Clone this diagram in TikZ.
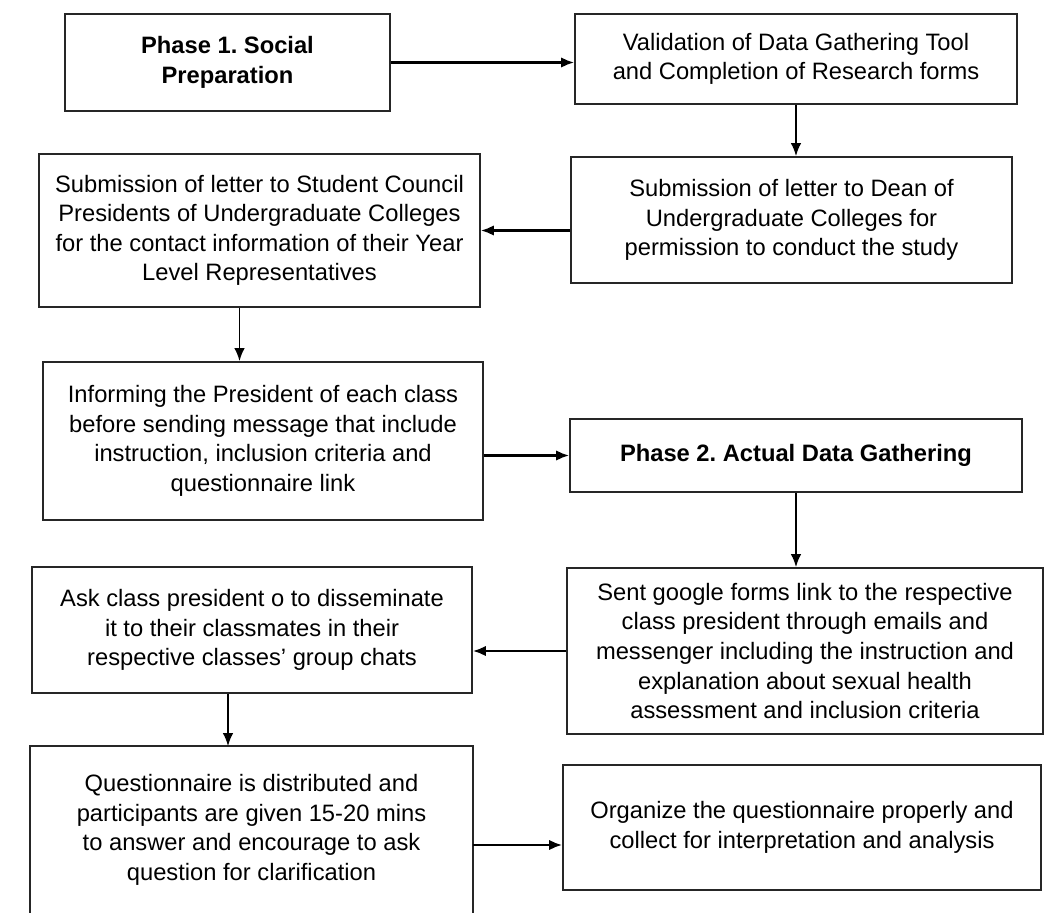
\documentclass[tikz,border=0pt]{standalone}
\usepackage{xcolor}
\usepackage{fontspec}
\setmainfont{Liberation Sans}
\usepackage{tikz}
\usetikzlibrary{arrows.meta, positioning, calc}
\frenchspacing

\tikzset{
    box/.style={draw=black!85, line width=1pt, rectangle, align=center, inner sep=2pt},
    arr/.style={->, line width=1.4pt},
    varr/.style={->, line width=1pt},
}

\begin{document}
\begin{tikzpicture}[x=0.02cm, y=-0.02cm, font=\fontsize{13.5}{16.8}\selectfont, >={Latex[length=2.6mm, width=2.1mm]}]
    \useasboundingbox (0,0) rectangle (1046,913);
    \node[box, minimum width=6.5cm, minimum height=1.94cm] (phaseone) at (227.5,62.5) {\textbf{Phase 1. Social}\\\textbf{Preparation}};
    \node[box, minimum width=8.84cm, minimum height=1.8cm] (tool) at (796,59) {Validation of Data Gathering Tool\\and Completion of Research forms};

    \node[box, minimum width=8.82cm, minimum height=2.52cm] (dean) at (791.5,220) {Submission of letter to Dean of\\Undergraduate Colleges for\\permission to conduct the study};
    \node[box, minimum width=8.82cm, minimum height=3.06cm] (council) at (259.5,230.5) {Submission of letter to Student Council\\Presidents of Undergraduate Colleges\\for the contact information of their Year\\Level Representatives};

    \node[box, minimum width=8.8cm, minimum height=3.16cm] (inform) at (263,441) {Informing the President of each class\\before sending message that include\\instruction, inclusion criteria and\\questionnaire link};
    \node[box, minimum width=9.04cm, minimum height=1.46cm] (phasetwo) at (796,455.5) {\textbf{Phase 2. Actual Data Gathering}};

    \node[box, minimum width=9.52cm, minimum height=3.32cm] (forms) at (805,651) {Sent google forms link to the respective\\class president through emails and\\messenger including the instruction and\\explanation about sexual health\\assessment and inclusion criteria};
    \node[box, minimum width=8.8cm, minimum height=2.52cm] (ask) at (252,630) {Ask class president o to disseminate\\it to their classmates in their\\respective classes' group chats};

    % last box runs off the bottom of the page
    \node[box, draw=none, minimum width=8.82cm, minimum height=3.32cm] (quest) at (251.5,830) {Questionnaire is distributed and\\participants are given 15-20 mins\\to answer and encourage to ask\\question for clarification};
    \draw[black!85, line width=1pt] (quest.south west) -- (quest.north west) -- (quest.north east) -- (quest.south east);
    \node[box, minimum width=9.56cm, minimum height=2.5cm] (organize) at (802,827.5) {Organize the questionnaire properly and\\collect for interpretation and analysis};

    \draw[arr] (phaseone.east) -- (phaseone.east -| tool.west);
    \draw[varr] (tool.south) -- (tool.south |- dean.north);
    \draw[arr] (dean.west |- council.east) -- (council.east);
    \draw[varr] ([xshift=-0.4cm]council.south) -- ([xshift=-0.4cm]council.south |- inform.north);
    \draw[arr] (inform.east |- phasetwo.west) -- (phasetwo.west);
    \draw[varr] (phasetwo.south) -- (phasetwo.south |- forms.north);
    \draw[arr] (forms.west) -- (forms.west -| ask.east);
    \draw[varr] ([xshift=-0.48cm]ask.south) -- ([xshift=-0.48cm]ask.south |- quest.north);
    \draw[arr] ([yshift=-0.35cm]organize.west -| quest.east) -- ([yshift=-0.35cm]organize.west);
\end{tikzpicture}
\end{document}
